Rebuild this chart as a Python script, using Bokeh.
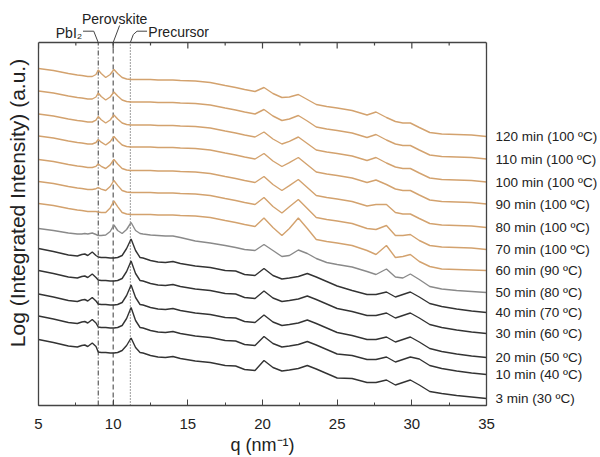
from bokeh.plotting import figure
from bokeh.models import Range1d, LinearAxis, SingleIntervalTicker, FixedTicker
from bokeh.core.properties import value
from bokeh.embed import file_html
from bokeh.resources import INLINE

# scattering vector q (nm^-1)
q = [5, 6, 7, 7.6, 7.9, 8.1, 8.3, 8.6, 8.85, 9.0, 9.2, 9.5, 9.8, 10.05, 10.3, 10.6, 10.9, 11.2, 11.5, 11.8,
     12.0, 12.5, 13.0, 13.5, 14.0, 14.5, 15.5, 16.5, 17.5, 18.2, 18.8, 19.5, 20.1, 20.7, 21.3, 21.8, 22.4, 23.0,
     23.6, 24.3, 25.0, 26.0, 27.0, 27.6, 28.3, 28.9, 29.4, 29.9, 30.5, 31.2, 32.0, 33.0, 34.0, 35.0]

# log integrated intensity (a.u., stacked)
int_120 = [337, 335, 332, 330.5, 330, 329.5, 329, 329, 331, 335.5, 332, 328, 331, 336, 332, 328, 326.5, 326, 326, 326,
           326, 326, 325.5, 325.5, 325.5, 325, 324.5, 323, 320, 318, 316, 314, 318, 312, 308, 308.5, 311, 306, 301, 299,
           297.5, 295, 290.5, 293.5, 288, 284, 282.5, 282.5, 278, 273, 271.5, 271, 270.5, 269]
int_110 = [314.5, 312.5, 309.5, 308, 307.5, 307, 306.5, 306.5, 308.5, 312.5, 309, 305.5, 308.5, 313.5, 309.5, 305.5, 304,
           303.5, 303.5, 303.5, 303.5, 303.5, 303, 303, 303, 302.5, 302, 300.5, 297.5, 295.5, 293.5, 291.5, 296, 289.5,
           285, 286.5, 290, 284.5, 278.5, 276.5, 275, 272.5, 268, 271, 265.5, 261.5, 260, 260, 255.5, 250.5, 249, 248.5,
           248, 246.5]
int_100 = [291.5, 289.5, 286.5, 285, 284.5, 284, 283.5, 283.5, 285.3, 289, 285.8, 282.5, 285.5, 290.5, 286.5, 282.5, 281,
           280.5, 280.5, 280.5, 280.5, 280.5, 280, 280, 280, 279.5, 279, 277.5, 274.5, 272.5, 270.5, 268.5, 273.5, 266.5,
           261.5, 264.2, 268.5, 262, 255.5, 253.5, 252, 249.5, 245, 248, 242.5, 238.5, 237, 237, 232.5, 227.5, 226, 225.5,
           225, 223.5]
int_90 = [269.5, 267.5, 264.5, 263, 262.5, 262, 261.5, 261.5, 263, 266, 263.3, 260.5, 263.9, 269, 264.8, 260.5, 259, 258.5,
          258.5, 258.5, 258.5, 258.5, 258, 258, 258, 257.5, 257, 255.5, 252.5, 250.5, 248.5, 246.5, 252, 244.5, 239, 242.8,
          248, 240.8, 233.5, 231.5, 230, 227.5, 223, 225.5, 221, 216.5, 215, 215, 210.5, 205.5, 204, 203.5, 203, 201.5]
int_80 = [246, 244, 241, 239.5, 239, 238.5, 238, 238, 239.2, 241.5, 239.2, 237, 240.6, 246, 241.5, 237, 235.5, 235, 235, 235,
          235, 235, 234.5, 234.5, 234.5, 234, 233.5, 232, 229, 227, 225, 223, 229, 221, 215, 219.9, 226, 218, 210, 208,
          206.5, 204, 199.5, 201, 201, 193, 191.5, 191.5, 187, 182, 180.5, 180, 179.5, 178]
int_70 = [224, 222, 219, 217.5, 217, 216.5, 216, 216, 216.8, 218, 216.4, 215, 219, 225, 220.1, 215, 213.5, 213, 213, 213,
          213, 213, 212.5, 212.5, 212.5, 212, 211.5, 210, 207, 205, 203, 201, 208, 199, 192.5, 198.7, 206, 197, 188, 186,
          184.5, 182, 177, 176, 180, 170, 170, 171, 165, 160, 158.5, 158, 157.5, 156]
int_60 = [202, 200, 197, 195.5, 195, 194.5, 194, 194, 194, 193.5, 193, 193, 197.6, 204.5, 198.9, 193, 191.5, 191, 191, 191,
          191, 191, 190.5, 190.5, 190.5, 190, 189.5, 188, 185, 183, 181, 179, 187.5, 178, 170, 177, 187.5, 177, 166, 164,
          162.5, 160, 155, 151, 160, 148, 149, 151, 144, 139, 136.5, 136, 135.5, 135]
int_50 = [177, 175, 172.5, 171.5, 171.5, 172, 171.5, 172.5, 171, 170, 170, 170.5, 174, 180.5, 175, 172, 176, 183, 175, 172,
          171.5, 170.5, 170, 169.5, 169.5, 168, 164.5, 162.5, 160, 158, 156, 155, 161, 155, 149, 150, 155.5, 152, 147, 143,
          141, 138.5, 134, 131, 136.5, 128.5, 127.5, 131.5, 126, 119, 116.5, 115, 114, 113]
int_40 = [157, 154, 150.5, 149.5, 151, 151.5, 150, 153.5, 150, 148.5, 148, 148, 147.5, 147.5, 148, 150, 157, 166.5, 155, 148,
          147.5, 145, 143.5, 143, 144, 142, 139.5, 138, 135, 134.5, 131, 130, 137, 130, 126.5, 127.5, 129, 132, 128.5, 124,
          119.5, 115, 111, 111, 113.5, 108.5, 111, 113.5, 108.5, 102, 99, 96.5, 94.5, 93]
int_30 = [135, 132, 128.5, 127.5, 129, 129.5, 128, 131.5, 128, 125.5, 125, 125, 124.5, 124.5, 125, 127, 134, 144.5, 132, 125,
          124.5, 122, 120.5, 120, 121, 119, 116.5, 115, 112, 111.5, 108, 107, 114.5, 107.5, 104, 105, 106.5, 109.5, 106, 101.5,
          97, 94, 90, 90, 92.5, 87.5, 90, 92.5, 87.5, 81, 78, 75.5, 73.5, 72]
int_20 = [111.5, 108.5, 105, 104, 105.5, 106, 104.5, 108, 104.5, 101.5, 101, 101, 100.5, 100.5, 101, 103, 110, 120.5, 108, 101,
          100.5, 98, 96.5, 96, 97, 95, 92.5, 91, 88, 87.5, 84, 83, 90.5, 83.5, 80, 81, 82.5, 85.5, 82, 77.5,
          73, 70, 66, 66, 68.5, 63.5, 66, 68.5, 63.5, 57, 54, 51.5, 49.5, 48]
int_10 = [89.5, 86.5, 83, 82, 83.5, 84, 82.5, 86, 82.5, 78.5, 78, 78, 77.5, 77.5, 78, 80, 87, 98, 85, 78,
          77.5, 75, 73.5, 73, 74, 72, 69.5, 68, 65, 64.5, 61, 60, 69, 62, 58.5, 59.5, 61, 64, 60.5, 56,
          51.5, 50, 46, 46, 48.5, 43.5, 46, 48.5, 46.5, 40, 37, 34.5, 32.5, 31]
int_3 = [66, 63, 59.5, 58.5, 60, 60.5, 59, 62.5, 59, 53.5, 53, 53, 52.5, 52.5, 53, 55, 60, 67.5, 58, 53,
         52.5, 50, 48.5, 48, 49, 47, 44.5, 43, 40, 39.5, 36, 35, 45, 38, 34.5, 35.5, 37, 40, 36.5, 32,
         27.5, 27, 23, 23, 25.5, 20.5, 23, 25.5, 20.5, 14, 12, 10, 8.5, 7]

series_labels = ["120 min (100 ºC)", "110 min (100 ºC)", "100 min (100 ºC)", "90 min (100 ºC)",
                 "80 min (100 ºC)", "70 min (100 ºC)", "60 min (90 ºC)", "50 min (80 ºC)",
                 "40 min (70 ºC)", "30 min (60 ºC)", "20 min (50 ºC)", "10 min (40 ºC)", "3 min (30 ºC)"]
series_values = [int_120, int_110, int_100, int_90, int_80, int_70, int_60,
                 int_50, int_40, int_30, int_20, int_10, int_3]

# reference peak positions
ref_q = [9.0, 10.0, 11.15]
ref_names = ["PbI₂", "Perovskite", "Precursor"]

# axis ticks
x_major = [5, 10, 15, 20, 25, 30, 35]
x_minor = [7.5, 12.5, 17.5, 22.5, 27.5, 32.5]
Y_TOP = 363          # upper limit of the intensity axis

ORANGE = "#d3a26e"
GREY = "#8a8a8a"
DARK = "#333333"
series_colors = [ORANGE] * 7 + [GREY] + [DARK] * 5

FONT = "Liberation Sans"
TXT = "#222222"
FRAME = "#444444"

p = figure(width=600, height=457, x_range=Range1d(5, 35), y_range=Range1d(0, 405),
           output_backend="svg", toolbar_location=None,
           min_border_left=38, min_border_right=113, min_border_top=0, min_border_bottom=52)
p.grid.visible = False
p.outline_line_color = None
p.background_fill_color = "white"
p.border_fill_color = "white"

# bottom axis
xa = p.xaxis[0]
xa.ticker = SingleIntervalTicker(interval=5, num_minor_ticks=2)
xa.axis_label = "q (nm⁻¹)"
xa.axis_label_text_font = FONT
xa.axis_label_text_font_size = "18px"
xa.axis_label_text_font_style = "normal"
xa.axis_label_text_color = TXT
xa.axis_label_standoff = 3
xa.major_label_text_font = FONT
xa.major_label_text_font_size = "15px"
xa.major_label_text_color = TXT
xa.major_label_standoff = 13
xa.major_tick_in = 6
xa.major_tick_out = 0
xa.minor_tick_in = 3
xa.minor_tick_out = 0
xa.axis_line_color = FRAME
xa.axis_line_width = 1.3
xa.major_tick_line_color = FRAME
xa.minor_tick_line_color = FRAME

# left axis (title only)
ya = p.yaxis[0]
ya.ticker = FixedTicker(ticks=[])
ya.bounds = (0, Y_TOP)
ya.axis_label = "Log (Integrated Intensity) (a.u.)"
ya.axis_label_text_font = FONT
ya.axis_label_text_font_size = "21px"
ya.axis_label_text_font_style = "normal"
ya.axis_label_text_color = TXT
ya.axis_label_standoff = 10
ya.major_label_text_font_size = "0px"
ya.major_label_standoff = 0
ya.major_tick_line_color = None
ya.minor_tick_line_color = None
ya.axis_line_color = FRAME
ya.axis_line_width = 1.3

# right axis carrying the series labels at each curve's end
ends = [float(v[-1]) for v in series_values]
ra = LinearAxis(ticker=FixedTicker(ticks=ends), bounds=(0, Y_TOP),
                major_label_overrides={e: lab for e, lab in zip(ends, series_labels)},
                major_label_text_font=FONT, major_label_text_font_size="13.5px",
                major_label_text_color=TXT, major_label_standoff=3,
                major_tick_line_color=None, minor_tick_line_color=None,
                axis_line_color=FRAME, axis_line_width=1.3)
p.add_layout(ra, "right")

# top frame line with inward ticks
p.segment(x0=[x_major[0]], y0=[Y_TOP], x1=[x_major[-1]], y1=[Y_TOP], line_color=FRAME, line_width=1.3)
p.segment(x0=x_major, y0=[Y_TOP] * len(x_major), x1=x_major, y1=[Y_TOP - 6] * len(x_major),
          line_color=FRAME, line_width=1.2)
p.segment(x0=x_minor, y0=[Y_TOP] * len(x_minor), x1=x_minor, y1=[Y_TOP - 3] * len(x_minor),
          line_color=FRAME, line_width=1.2)

# reference lines
dashes = ["5 2 1 2", "5 3", "1 2"]
for loc, dash in zip(ref_q, dashes):
    p.segment(x0=[loc], y0=[0], x1=[loc], y1=[Y_TOP], line_color="#3a3a3a",
              line_width=1, line_dash=dash)

# curves
for vals, col in zip(series_values, series_colors):
    p.line(q, vals, line_color=col, line_width=1.4)

# peak annotations above the frame
LC = "#444444"
p.line([7.98, 8.7, ref_q[0]], [374.3, 374.3, Y_TOP], line_color=LC, line_width=1)
p.line([10.43, ref_q[1]], [380, Y_TOP], line_color=LC, line_width=1)
p.line([12.27, 11.6, 11.35, ref_q[2]], [374.3, 374.3, 371, Y_TOP], line_color=LC, line_width=1)

p.text(x=[ref_q[0]], y=[373], text=[ref_names[0]], x_offset=-16, text_font=value(FONT),
       text_font_size="14px", text_color=TXT, text_align="right", text_baseline="middle")
p.text(x=[ref_q[1]], y=[387], text=[ref_names[1]], x_offset=1.5, text_font=value(FONT),
       text_font_size="14px", text_color=TXT, text_align="center", text_baseline="middle")
p.text(x=[ref_q[2]], y=[374], text=[ref_names[2]], x_offset=18, text_font=value(FONT),
       text_font_size="14px", text_color=TXT, text_align="left", text_baseline="middle")

open("out.html", "w").write(file_html(p, INLINE))
